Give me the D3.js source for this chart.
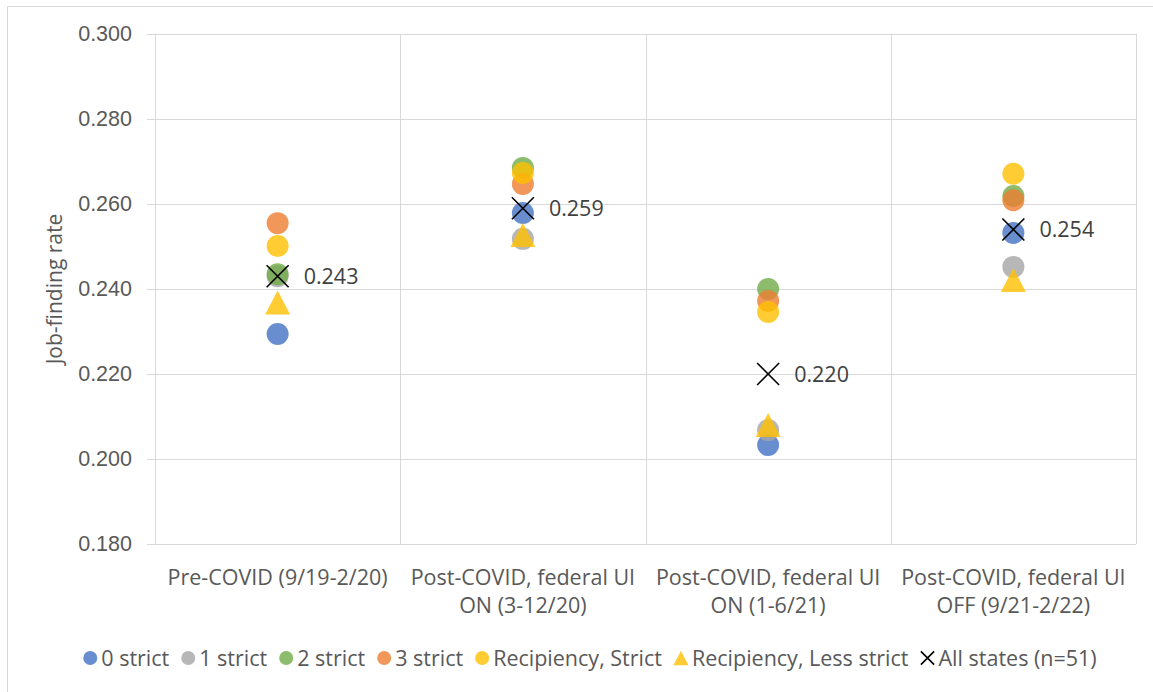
<!DOCTYPE html>
<html>
<head>
<meta charset="utf-8">
<script src="https://cdn.jsdelivr.net/npm/d3@7"></script>
<style>
  html, body { margin: 0; padding: 0; background: #ffffff; }
  svg { display: block; font-family: "Open Sans", "Noto Sans", sans-serif; }
</style>
</head>
<body>
<svg id="chart" width="1153" height="692"></svg>
<script>
// Periods on the x axis, each split into its wrapped label lines
const categories = [
  "Pre-COVID (9/19-2/20)",
  "Post-COVID, federal UI ON (3-12/20)",
  "Post-COVID, federal UI ON (1-6/21)",
  "Post-COVID, federal UI OFF (9/21-2/22)"
];
const categoryLines = [
  ["Pre-COVID (9/19-2/20)"],
  ["Post-COVID, federal UI", "ON (3-12/20)"],
  ["Post-COVID, federal UI", "ON (1-6/21)"],
  ["Post-COVID, federal UI", "OFF (9/21-2/22)"]
];

// Job-finding rates by group of states
const strict0     = [0.2294, 0.2579, 0.2033, 0.2532];
const strict1     = [0.2430, 0.2518, 0.2068, 0.2452];
const strict2     = [0.2435, 0.2685, 0.2400, 0.2619];
const strict3     = [0.2555, 0.2647, 0.2372, 0.2609];
const recipStrict = [0.2501, 0.2673, 0.2346, 0.2671];
const recipLess   = [0.2368, 0.2527, 0.2080, 0.2421];
const allStates   = [0.243, 0.259, 0.220, 0.254];

const yTicks = [0.180, 0.200, 0.220, 0.240, 0.260, 0.280, 0.300];

const series = [
  { name: "0 strict", values: strict0, color: "#4472C4", shape: "circle" },
  { name: "1 strict", values: strict1, color: "#A5A5A5", shape: "circle" },
  { name: "2 strict", values: strict2, color: "#70AD47", shape: "circle" },
  { name: "3 strict", values: strict3, color: "#ED7D31", shape: "circle" },
  { name: "Recipiency, Strict", values: recipStrict, color: "#FFC000", shape: "circle" },
  { name: "Recipiency, Less strict", values: recipLess, color: "#FFC000", shape: "triangle" },
  { name: "All states (n=51)", values: allStates, color: "#000000", shape: "cross", labelled: true }
];

const svg = d3.select("#chart");
const plot = { left: 155, right: 1136, top: 34, bottom: 544 };
const gridColor = "#d9d9d9";
const textColor = "#595959";
const fontSize = 21.5;

// Chart area frame
svg.append("rect")
  .attr("x", 7.5).attr("y", 6.5)
  .attr("width", 1200).attr("height", 720)
  .attr("fill", "#ffffff")
  .attr("stroke", gridColor).attr("stroke-width", 1);

const x = d3.scaleBand().domain(categories).range([plot.left, plot.right]).padding(0);
const y = d3.scaleLinear().domain([0.18, 0.30]).range([plot.bottom, plot.top]);

// Horizontal gridlines and y axis labels
const yAxis = d3.axisLeft(y).tickValues(yTicks).tickFormat(d3.format(".3f"))
  .tickSize(plot.right - plot.left + 8).tickPadding(15);
const yg = svg.append("g")
  .attr("transform", `translate(${plot.right},0)`)
  .call(yAxis);
yg.select(".domain").remove();
yg.selectAll(".tick line").attr("stroke", gridColor).attr("shape-rendering", "crispEdges");
yg.selectAll(".tick text")
  .attr("fill", textColor).attr("font-size", fontSize).attr("font-family", null);

// Vertical category gridlines
const bounds = categories.map(c => x(c)).concat([plot.right]);
svg.append("g").selectAll("line")
  .data(bounds)
  .join("line")
  .attr("x1", d => Math.round(d) + 0.5).attr("x2", d => Math.round(d) + 0.5)
  .attr("y1", plot.top).attr("y2", plot.bottom)
  .attr("stroke", gridColor);

// Category labels below the axis
const xg = svg.append("g");
categories.forEach((c, i) => {
  const t = xg.append("text")
    .attr("x", x(c) + x.bandwidth() / 2)
    .attr("y", 585)
    .attr("text-anchor", "middle")
    .attr("fill", textColor)
    .attr("font-size", fontSize);
  categoryLines[i].forEach((line, j) => {
    t.append("tspan")
      .attr("x", x(c) + x.bandwidth() / 2)
      .attr("dy", j === 0 ? 0 : 28)
      .text(line);
  });
});

// Y axis title
svg.append("text")
  .attr("transform", `translate(62,${(plot.top + plot.bottom) / 2}) rotate(-90)`)
  .attr("text-anchor", "middle")
  .attr("fill", textColor)
  .attr("font-size", 21)
  .text("Job-finding rate");

// Marker drawing helpers
const circleR = 11;
function drawMarker(g, shape, color, cx, cy, scale) {
  const s = scale || 1;
  if (shape === "circle") {
    g.append("circle")
      .attr("cx", cx).attr("cy", cy).attr("r", circleR * s)
      .attr("fill", color).attr("fill-opacity", 0.8);
  } else if (shape === "triangle") {
    const w = 25 * s, h = 24 * s;
    g.append("path")
      .attr("d", `M${cx},${cy - h / 2}L${cx + w / 2},${cy + h / 2}L${cx - w / 2},${cy + h / 2}Z`)
      .attr("fill", color).attr("fill-opacity", 0.8);
  } else if (shape === "cross") {
    const r = 11 * s;
    g.append("path")
      .attr("d", `M${cx - r},${cy - r}L${cx + r},${cy + r}M${cx - r},${cy + r}L${cx + r},${cy - r}`)
      .attr("stroke", color).attr("stroke-width", 1.6).attr("fill", "none");
  }
}

// Data points
const marks = svg.append("g");
series.forEach(s => {
  const g = marks.append("g").attr("class", "series");
  s.values.forEach((v, i) => {
    const cx = x(categories[i]) + x.bandwidth() / 2;
    drawMarker(g, s.shape, s.color, cx, y(v));
  });
});

// Value labels for the all-states series
const allSeries = series.find(s => s.labelled);
svg.append("g").selectAll("text")
  .data(allSeries.values)
  .join("text")
  .attr("x", (d, i) => x(categories[i]) + x.bandwidth() / 2 + 26)
  .attr("y", d => y(d))
  .attr("dy", "0.35em")
  .attr("fill", "#404040")
  .attr("font-size", fontSize)
  .text(d => d3.format(".3f")(d));

// Legend
const legend = svg.append("g");
const itemGap = 12;
let cursor = 0;
series.forEach(s => {
  const item = legend.append("g").attr("transform", `translate(${cursor},0)`);
  const mx = 7;
  if (s.shape === "circle") drawMarker(item, "circle", s.color, mx, 0, 7 / 11);
  else if (s.shape === "triangle") drawMarker(item, "triangle", s.color, mx, 0, 0.6);
  else drawMarker(item, "cross", s.color, mx, 0, 0.6);
  const t = item.append("text")
    .attr("x", 18).attr("y", 0).attr("dy", "0.35em")
    .attr("fill", textColor).attr("font-size", fontSize)
    .text(s.name);
  cursor += 18 + t.node().getComputedTextLength() + itemGap;
});
const legendWidth = cursor - itemGap;
legend.attr("transform", `translate(${590 - legendWidth / 2},658)`);
</script>
</body>
</html>
